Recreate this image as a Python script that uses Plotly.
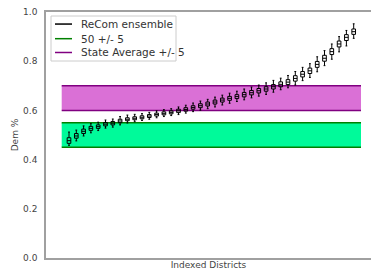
import plotly.graph_objects as go

districts = list(range(1, 41))
medians = [0.477, 0.496, 0.515, 0.527, 0.534, 0.544, 0.548, 0.557, 0.564, 0.568,
           0.572, 0.577, 0.583, 0.588, 0.592, 0.598, 0.604, 0.612, 0.619, 0.626,
           0.634, 0.642, 0.649, 0.656, 0.664, 0.672, 0.680, 0.687, 0.696, 0.706,
           0.715, 0.730, 0.747, 0.761, 0.787, 0.812, 0.839, 0.870, 0.897, 0.920]
q1 = [0.466, 0.487, 0.506, 0.519, 0.527, 0.537, 0.541, 0.550, 0.558, 0.562,
      0.566, 0.571, 0.577, 0.582, 0.586, 0.591, 0.597, 0.605, 0.611, 0.618,
      0.626, 0.634, 0.641, 0.648, 0.655, 0.663, 0.671, 0.678, 0.687, 0.696,
      0.705, 0.719, 0.736, 0.750, 0.775, 0.800, 0.827, 0.858, 0.884, 0.909]
q3 = [0.489, 0.506, 0.524, 0.535, 0.541, 0.551, 0.555, 0.564, 0.570, 0.574,
      0.578, 0.583, 0.589, 0.594, 0.598, 0.605, 0.611, 0.619, 0.627, 0.634,
      0.642, 0.650, 0.657, 0.664, 0.673, 0.681, 0.689, 0.696, 0.705, 0.716,
      0.725, 0.741, 0.758, 0.772, 0.799, 0.824, 0.851, 0.882, 0.908, 0.931]
lower = [0.458, 0.476, 0.496, 0.509, 0.518, 0.528, 0.532, 0.541, 0.549, 0.554,
         0.559, 0.564, 0.570, 0.575, 0.579, 0.583, 0.589, 0.595, 0.601, 0.607,
         0.614, 0.622, 0.629, 0.636, 0.643, 0.651, 0.658, 0.665, 0.674, 0.684,
         0.692, 0.703, 0.721, 0.734, 0.757, 0.782, 0.808, 0.838, 0.862, 0.893]
upper = [0.512, 0.520, 0.537, 0.546, 0.552, 0.561, 0.565, 0.575, 0.581, 0.584,
         0.587, 0.592, 0.598, 0.603, 0.607, 0.614, 0.621, 0.630, 0.638, 0.645,
         0.654, 0.662, 0.670, 0.678, 0.687, 0.695, 0.703, 0.712, 0.722, 0.731,
         0.742, 0.758, 0.775, 0.790, 0.818, 0.843, 0.870, 0.900, 0.925, 0.952]

band_x = [0, 41]
fair_band = [0.45, 0.55]
state_band = [0.60, 0.70]

legend_labels = ["ReCom ensemble", "50 +/- 5", "State Average +/- 5"]
legend_colors = ["black", "#008000", "#800080"]

fig = go.Figure()

fig.add_trace(go.Box(x=districts, q1=q1, median=medians, q3=q3,
                     lowerfence=lower, upperfence=upper,
                     line=dict(color="black", width=1), fillcolor="rgba(0,0,0,0)",
                     width=0.5, whiskerwidth=0.5, showlegend=False, boxpoints=False))

shapes = []
for band, fill, edge in [(fair_band, "#00FA9A", "#008000"), (state_band, "#DA70D6", "#800080")]:
    shapes.append(dict(type="rect", xref="x", yref="y", x0=band_x[0], x1=band_x[1],
                       y0=band[0], y1=band[1], fillcolor=fill, line=dict(width=0), layer="below"))
    for yv in band:
        shapes.append(dict(type="line", xref="x", yref="y", x0=band_x[0], x1=band_x[1],
                           y0=yv, y1=yv, line=dict(color=edge, width=1.5), layer="below"))

# custom legend (matplotlib-like)
shapes.append(dict(type="rect", xref="paper", yref="paper", x0=0.0154, x1=0.40,
                   y0=0.8008, y1=0.9837, fillcolor="white",
                   line=dict(color="#cccccc", width=1), layer="above"))
leg_y = [0.951, 0.8915, 0.8354]
annotations = []
for lab, col, yy in zip(legend_labels, legend_colors, leg_y):
    shapes.append(dict(type="line", xref="paper", yref="paper", x0=0.0277, x1=0.08,
                       y0=yy, y1=yy, line=dict(color=col, width=1.5), layer="above"))
    annotations.append(dict(xref="paper", yref="paper", x=0.1015, y=yy, text=lab,
                            showarrow=False, xanchor="left", yanchor="middle",
                            font=dict(size=10.5, color="#333")))

fig.update_layout(
    width=371, height=275,
    margin=dict(l=46, r=0, t=12, b=17),
    paper_bgcolor="white", plot_bgcolor="white",
    font=dict(family="DejaVu Sans", size=9, color="#444"),
    showlegend=False,
    shapes=shapes, annotations=annotations,
    xaxis=dict(range=[-2.15, 42.37], showticklabels=False, ticks="", showgrid=False,
               zeroline=False, showline=True, linecolor="#a0a0a0", linewidth=1.5, mirror=True,
               automargin=False,
               title=dict(text="Indexed Districts", standoff=3, font=dict(size=9))),
    yaxis=dict(range=[0, 1], dtick=0.2, tickformat=".1f", showgrid=False, zeroline=False,
               showline=True, linecolor="#a0a0a0", linewidth=1.5, ticks="outside",
               ticklen=5, tickcolor="white", automargin=False,
               title=dict(text="Dem %", standoff=3, font=dict(size=9))),
)

fig.write_html("out.html", config={"displayModeBar": False},
               post_script="document.body.style.margin='0';document.body.style.overflow='hidden';")
